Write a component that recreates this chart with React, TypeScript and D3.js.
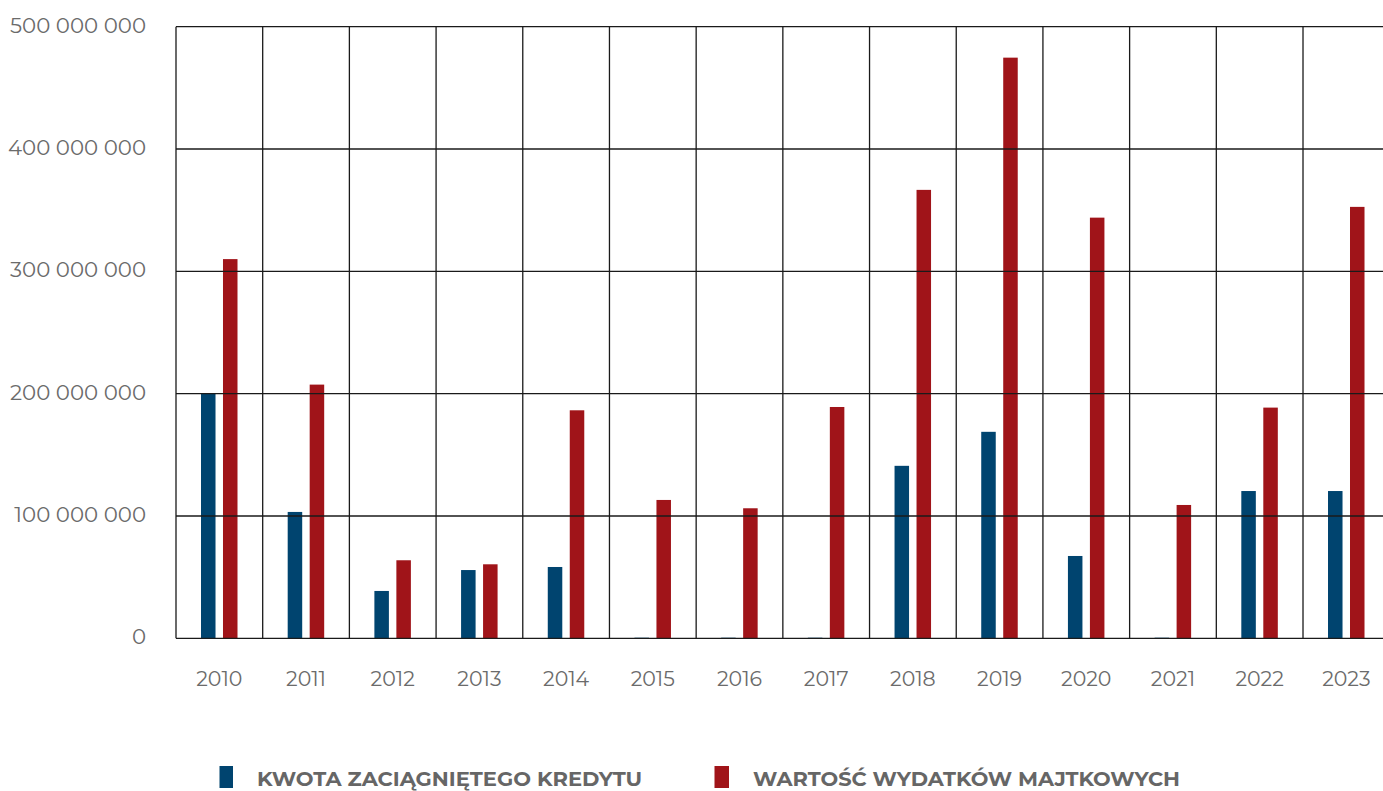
import React from "react";
import * as d3 from "d3";

const years = ["2010", "2011", "2012", "2013", "2014", "2015", "2016", "2017", "2018", "2019", "2020", "2021", "2022", "2023"];
const seriesNames = ["KWOTA ZACIĄGNIĘTEGO KREDYTU", "WARTOŚĆ WYDATKÓW MAJTKOWYCH"];
const kredyt = [200000000, 103300000, 38700000, 55800000, 58300000, 500000, 500000, 500000, 141000000, 168800000, 67300000, 500000, 120400000, 120400000];
const wydatki = [310000000, 207400000, 63800000, 60500000, 186400000, 113100000, 106300000, 189100000, 366600000, 474700000, 343900000, 109000000, 188600000, 352700000];
const yTicks = [0, 100000000, 200000000, 300000000, 400000000, 500000000];
const colors = ["#00446F", "#A01419"];

const W = 1383;
const H = 791;
const FONT = "Montserrat, 'Open Sans', Lato, sans-serif";

export default function App() {
  const x = d3.scaleBand<string>().domain(years).range([176, 1389.7]).padding(0);
  const xs = d3.scaleBand<string>().domain(seriesNames).range([25, 61.5]).paddingInner(0.34).paddingOuter(0);
  const y = d3.scaleLinear().domain([0, 500000000]).range([638.3, 26.7]);
  const fmt = (v: number) => d3.format(",")(v).replace(/,/g, " ");
  const data = [kredyt, wydatki];
  const boundaries = years.map((yr) => x(yr) as number).concat([(x(years[years.length - 1]) as number) + x.bandwidth()]);

  return (
    <svg width={W} height={H} style={{ position: "absolute", left: 0, top: 0, background: "#fff" }}>
      {/* bars */}
      {data.map((vals, si) =>
        vals.map((v, i) => (
          <rect
            key={`b${si}-${i}`}
            x={(x(years[i]) as number) + (xs(seriesNames[si]) as number)}
            y={y(v)}
            width={xs.bandwidth()}
            height={y(0) - y(v)}
            fill={colors[si]}
          />
        ))
      )}
      {/* horizontal gridlines */}
      {yTicks.map((t) => (
        <line key={`h${t}`} x1={176} x2={1390} y1={y(t)} y2={y(t)} stroke="#1a1a1a" strokeWidth={1.3} />
      ))}
      {/* vertical gridlines */}
      {boundaries.map((bx, i) => (
        <line key={`v${i}`} x1={bx} x2={bx} y1={y(500000000)} y2={y(0)} stroke="#1a1a1a" strokeWidth={1.3} />
      ))}
      {/* y labels */}
      {yTicks.map((t) => (
        <text key={`yl${t}`} x={146} y={y(t) + 6} textAnchor="end" fontFamily={FONT} fontSize={21.3} fill="#6b6b6b">
          {fmt(t)}
        </text>
      ))}
      {/* x labels */}
      {years.map((yr) => (
        <text key={`xl${yr}`} x={(x(yr) as number) + x.bandwidth() / 2} y={686} textAnchor="middle" fontFamily={FONT} fontSize={20.5} fill="#6b6b6b">
          {yr}
        </text>
      ))}
      {/* legend */}
      <rect x={219.5} y={766} width={13.5} height={22} fill={colors[0]} />
      <text x={257} y={786} fontFamily={FONT} fontSize={20} fontWeight={700} fill="#666" textLength={385} lengthAdjust="spacingAndGlyphs">
        {seriesNames[0]}
      </text>
      <rect x={714.5} y={766} width={14.5} height={22} fill={colors[1]} />
      <text x={753} y={786} fontFamily={FONT} fontSize={20} fontWeight={700} fill="#666" textLength={427} lengthAdjust="spacingAndGlyphs">
        {seriesNames[1]}
      </text>
    </svg>
  );
}
